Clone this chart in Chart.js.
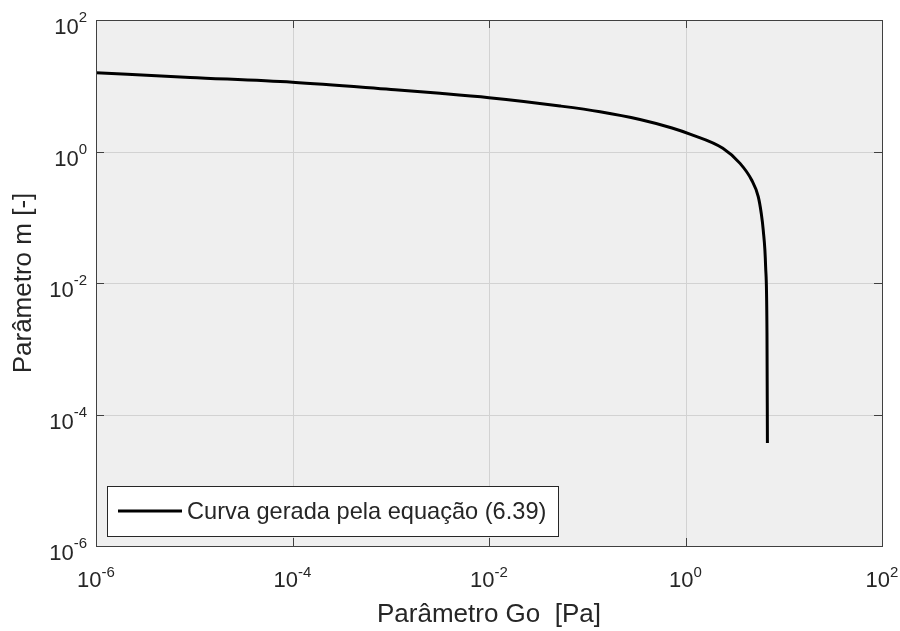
<!DOCTYPE html>
<html>
<head>
<meta charset="utf-8">
<script src="https://cdn.jsdelivr.net/npm/chart.js@4"></script>
<style>
  html, body { margin: 0; padding: 0; background: #fff; }
  #wrap { width: 900px; height: 631px; }
</style>
</head>
<body>
<div id="wrap"><canvas id="m-chart" width="900" height="631"></canvas></div>
<script>
const goValues = [1e-6, 9.06e-6, 1e-4, 1.007e-3, 3.17e-3, 1e-2, 0.0528, 0.135, 0.344, 0.729, 1.11, 2.40, 3.59, 4.71, 5.50, 5.90, 6.18, 6.54, 6.75, 6.82];
const mValues = [15.8, 13.4, 11.3, 8.77, 7.67, 6.58, 4.92, 4.03, 3.07, 2.28, 1.84, 1.12, 0.66, 0.369, 0.206, 0.115, 0.064, 0.0177, 0.00174, 3.7e-5];
const tickPowers = [-6, -4, -2, 0, 2];
const curveLabel = "Curva gerada pela equação (6.39)";
const xTitle = "Parâmetro Go  [Pa]";
const yTitle = "Parâmetro m [-]";

const textColor = "#262626";
const fontFamily = "'Liberation Sans', Arial, Helvetica, sans-serif";

const points = goValues.map((g, i) => ({x: g, y: mValues[i]}));

// axes box, inward ticks, 10^n labels and the legend drawn by hand
const matlabAxes = {
    id: "matlabAxes",
    beforeDatasetsDraw(chart) {
        const {ctx, chartArea: a} = chart;
        ctx.save();
        ctx.strokeStyle = "#d2d2d2";
        ctx.lineWidth = 1;
        tickPowers.forEach(p => {
            const v = Math.pow(10, p);
            const x = Math.round(chart.scales.x.getPixelForValue(v)) + 0.5;
            const y = Math.round(chart.scales.y.getPixelForValue(v)) + 0.5;
            ctx.beginPath();
            ctx.moveTo(x, a.top); ctx.lineTo(x, a.bottom);
            ctx.moveTo(a.left, y); ctx.lineTo(a.right, y);
            ctx.stroke();
        });
        ctx.restore();
    },
    afterDraw(chart) {
        const {ctx, chartArea: a} = chart;
        const xs = chart.scales.x, ys = chart.scales.y;
        ctx.save();
        ctx.strokeStyle = "#404040";
        ctx.lineWidth = 1;
        ctx.strokeRect(Math.round(a.left) + 0.5, Math.round(a.top) + 0.5,
            Math.round(a.right - a.left), Math.round(a.bottom - a.top));

        const tl = 8;
        ctx.beginPath();
        tickPowers.forEach(p => {
            const v = Math.pow(10, p);
            const x = Math.round(xs.getPixelForValue(v)) + 0.5;
            const y = Math.round(ys.getPixelForValue(v)) + 0.5;
            ctx.moveTo(x, a.bottom); ctx.lineTo(x, a.bottom - tl);
            ctx.moveTo(x, a.top); ctx.lineTo(x, a.top + tl);
            ctx.moveTo(a.left, y); ctx.lineTo(a.left + tl, y);
            ctx.moveTo(a.right, y); ctx.lineTo(a.right - tl, y);
        });
        ctx.stroke();

        // tick labels as 10 with a raised exponent
        ctx.fillStyle = textColor;
        ctx.textBaseline = "alphabetic";
        ctx.textAlign = "left";
        const baseFont = "22px " + fontFamily;
        const expFont = "15px " + fontFamily;
        tickPowers.forEach(p => {
            const v = Math.pow(10, p);
            const e = String(p);
            ctx.font = baseFont;
            const wb = ctx.measureText("10").width;
            ctx.font = expFont;
            const we = ctx.measureText(e).width;

            const px = xs.getPixelForValue(v);
            let sx = px - (wb + we) / 2;
            ctx.font = baseFont;
            ctx.fillText("10", sx, a.bottom + 41);
            ctx.font = expFont;
            ctx.fillText(e, sx + wb, a.bottom + 31);

            const py = ys.getPixelForValue(v);
            sx = a.left - 9 - (wb + we);
            ctx.font = baseFont;
            ctx.fillText("10", sx, py + 14);
            ctx.font = expFont;
            ctx.fillText(e, sx + wb, py + 2);
        });

        // legend box in the lower left corner
        const lx = 107, ly = 486, lw = 451, lh = 50;
        ctx.fillStyle = "#ffffff";
        ctx.fillRect(lx, ly, lw, lh);
        ctx.strokeStyle = "#262626";
        ctx.strokeRect(lx + 0.5, ly + 0.5, lw, lh);
        const ds = chart.data.datasets[0];
        ctx.strokeStyle = ds.borderColor;
        ctx.lineWidth = ds.borderWidth;
        ctx.beginPath();
        ctx.moveTo(118, ly + 25);
        ctx.lineTo(182, ly + 25);
        ctx.stroke();
        ctx.fillStyle = textColor;
        ctx.font = "23.6px " + fontFamily;
        ctx.textBaseline = "middle";
        ctx.fillText(ds.label, 187, ly + 26);
        ctx.restore();
    }
};

const plotBackground = {
    id: "plotBackground",
    beforeDraw(chart) {
        const {ctx, chartArea: a} = chart;
        ctx.save();
        ctx.fillStyle = "#efefef";
        ctx.fillRect(a.left, a.top, a.right - a.left, a.bottom - a.top);
        ctx.restore();
    }
};

new Chart(document.getElementById("m-chart"), {
    type: "scatter",
    data: {
        datasets: [{
            label: curveLabel,
            data: points,
            showLine: true,
            borderColor: "#000000",
            borderWidth: 3,
            pointRadius: 0,
            cubicInterpolationMode: "monotone",
            fill: false
        }]
    },
    options: {
        responsive: false,
        animation: false,
        layout: { padding: { left: 0, right: 18, top: 20, bottom: 0 } },
        plugins: {
            legend: { display: false },
            tooltip: { enabled: false }
        },
        scales: {
            x: {
                type: "logarithmic",
                min: 1e-6,
                max: 1e2,
                grid: { display: false },
                border: { display: false },
                ticks: { display: false },
                title: {
                    display: true,
                    text: xTitle,
                    color: textColor,
                    font: { family: fontFamily, size: 26 },
                    padding: { top: 0, bottom: 1 }
                },
                afterFit: s => { s.height = 85; }
            },
            y: {
                type: "logarithmic",
                min: 1e-6,
                max: 1e2,
                grid: { display: false },
                border: { display: false },
                ticks: { display: false },
                title: {
                    display: true,
                    text: yTitle,
                    color: textColor,
                    font: { family: fontFamily, size: 26 },
                    padding: { top: 8, bottom: 0 }
                },
                afterFit: s => { s.width = 96; }
            }
        }
    },
    plugins: [plotBackground, matlabAxes]
});
</script>
</body>
</html>
